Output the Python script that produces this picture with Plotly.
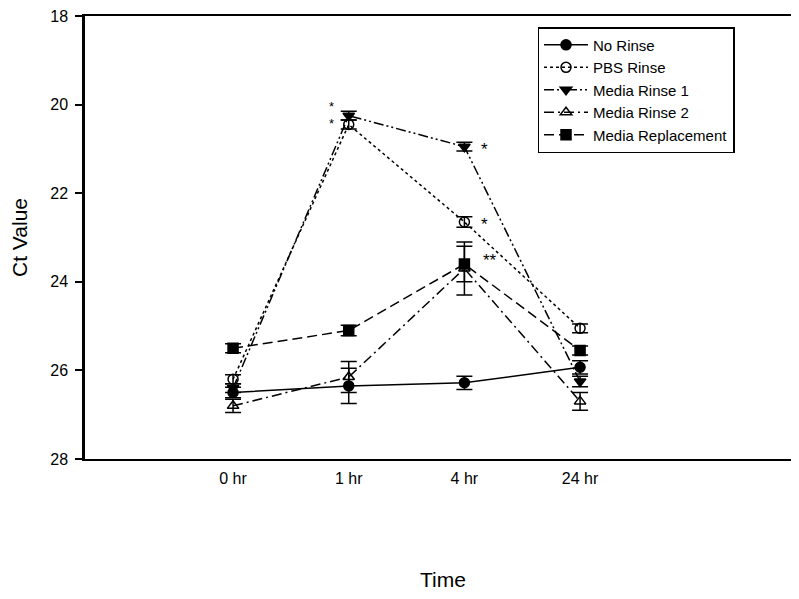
import plotly.graph_objects as go

time_labels = ["0 hr", "1 hr", "4 hr", "24 hr"]
x_pos = [0, 1, 2, 3]

no_rinse = [26.5, 26.35, 26.28, 25.93]
no_rinse_err = [0.12, 0.4, 0.15, 0.15]

pbs_rinse = [26.2, 20.45, 22.65, 25.05]
pbs_rinse_err = [0.1, 0.1, 0.12, 0.1]

media_rinse1 = [26.4, 20.25, 20.95, 26.25]
media_rinse1_err = [0.1, 0.1, 0.1, 0.12]

media_rinse2 = [26.8, 26.15, 23.7, 26.7]
media_rinse2_err = [0.15, 0.35, 0.6, 0.2]

media_replacement = [25.5, 25.1, 23.6, 25.55]
media_replacement_err = [0.1, 0.12, 0.4, 0.1]

series = [
    ("No Rinse", no_rinse, no_rinse_err, "circle", "solid"),
    ("PBS Rinse", pbs_rinse, pbs_rinse_err, "circle-open", "dot"),
    ("Media Rinse 1", media_rinse1, media_rinse1_err, "triangle-down", "10px,3px,2px,3px,2px,3px"),
    ("Media Rinse 2", media_rinse2, media_rinse2_err, "triangle-up-open", "10px,4px,2px,4px"),
    ("Media Replacement", media_replacement, media_replacement_err, "square", "10px,5px"),
]

FONT = "Liberation Sans, Arial, sans-serif"

fig = go.Figure()
for name, vals, errs, sym, dash in series:
    fig.add_trace(go.Scatter(
        x=x_pos, y=vals, name=name, mode="lines+markers",
        line=dict(color="black", width=1.5, dash=dash),
        marker=dict(symbol=sym, size=10, color="black",
                    line=dict(color="black", width=1.5)),
        error_y=dict(type="data", array=errs, visible=True,
                     color="black", thickness=1.5, width=8),
    ))

# significance markers
stars = [
    (1, 20.15, "*<br>*", -17, -4, 13),
    (2, 20.95, "*", 20, -3, 17),
    (2, 22.65, "*", 20, -3, 17),
    (2, 23.45, "**", 26, -3, 17),
]
for xv, yv, txt, dx, dy, fs in stars:
    fig.add_annotation(x=xv, y=yv, text=txt, showarrow=False,
                       xshift=dx, yshift=dy,
                       font=dict(family=FONT, size=fs, color="black"))

fig.update_layout(
    width=793, height=592,
    margin=dict(l=77, r=0, t=8, b=141),
    paper_bgcolor="white", plot_bgcolor="white",
    font=dict(family=FONT, size=16, color="black"),
    showlegend=True,
    legend=dict(
        x=0.632, y=0.975, xanchor="left", yanchor="top",
        bordercolor="black", borderwidth=1.5, bgcolor="white",
        font=dict(family=FONT, size=15, color="black"),
        tracegroupgap=0, itemwidth=44,
    ),
    xaxis=dict(
        range=[-1.28, 4.91], tickmode="array", tickvals=x_pos,
        ticktext=time_labels, showgrid=False, zeroline=False,
        showline=True, linecolor="black", linewidth=2, mirror=True,
        ticks="", ticklabelstandoff=4,
        title=dict(text="Time", font=dict(family=FONT, size=21), standoff=86),
    ),
    yaxis=dict(
        range=[28, 18], tickvals=[18, 20, 22, 24, 26, 28],
        showgrid=False, zeroline=False,
        showline=True, linecolor="black", linewidth=2.5,
        ticks="outside", ticklen=7, tickcolor="black", tickwidth=1.5,
        ticklabelstandoff=4, ticklabeloverflow="allow",
        title=dict(text="Ct Value", font=dict(family=FONT, size=21), standoff=18),
    ),
)

fig.write_html("out.html")
